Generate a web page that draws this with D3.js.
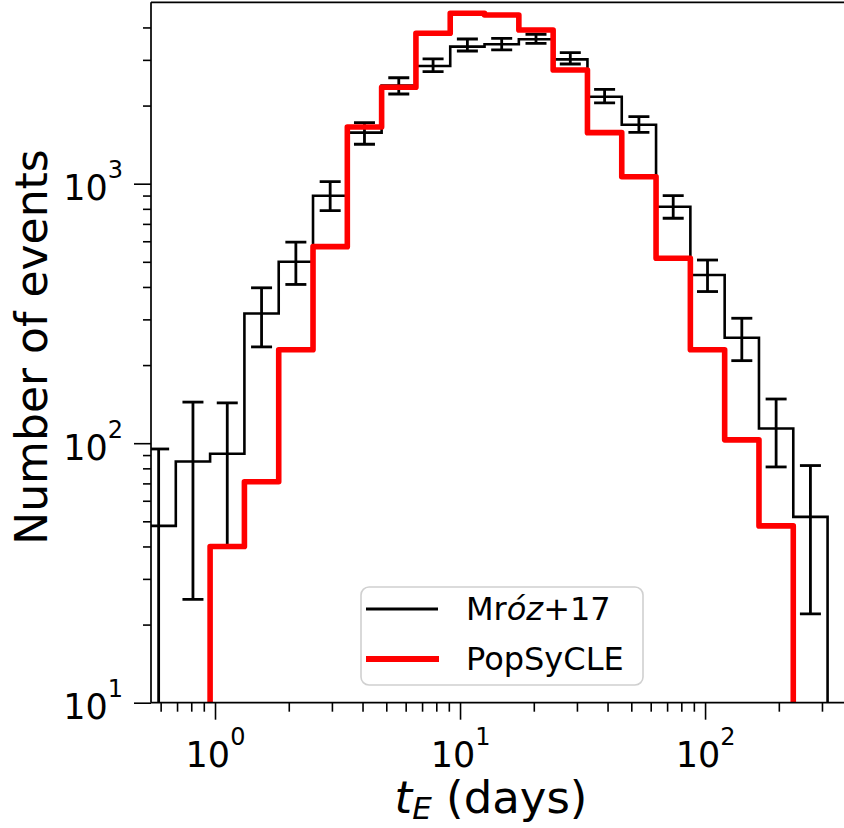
<!DOCTYPE html>
<meta charset="utf-8">
<script src="https://d3js.org/d3.v7.min.js"></script>
<style>
  body { margin: 0; background: #fff; }
  text { font-family: "DejaVu Sans", sans-serif; fill: #000; }
</style>
<div id="chart"></div>
<script>
// bin edges, log10(tE / days)
var logEdges = [-0.30, -0.16, -0.02, 0.12, 0.26, 0.40, 0.54, 0.68, 0.82, 0.96, 1.10,
                1.24, 1.38, 1.52, 1.66, 1.80, 1.94, 2.08, 2.22, 2.36, 2.50];
// Mroz+17 histogram and error bar ends
var mrozCounts = [48, 85, 91, 316, 500, 899, 1573, 2390, 2841, 3374, 3444,
                  3602, 3014, 2164, 1688, 815, 445, 255, 114, 52];
var mrozLow  = [1, 25, 40, 235, 409, 787, 1419, 2216, 2701, 3246, 3276,
                3475, 2892, 2050, 1578, 736, 384, 208, 81, 22];
var mrozHigh = [95, 144, 143, 397, 595, 1019, 1718, 2560, 3024, 3611, 3633,
                3765, 3199, 2311, 1813, 899, 508, 303, 148, 82];
// PopSyCLE histogram
var popCounts = [0, 0, 40, 71, 229, 572, 1654, 2353, 3798, 4536, 4467,
                 3909, 2742, 1573, 1064, 516, 229, 103, 48, 0];

var xTicks = [1, 10, 100];
var xMinor = [0.6, 0.7, 0.8, 0.9, 2, 3, 4, 5, 6, 7, 8, 9, 20, 30, 40, 50, 60, 70, 80, 90, 200, 300];
var yTicks = [10, 100, 1000];
var yMinor = [20, 30, 40, 50, 60, 70, 80, 90, 200, 300, 400, 500, 600, 700, 800, 900, 2000, 3000, 4000];

var W = 844, H = 828;
var pLeft = 151, pRight = 846, pTop = 2.3, pBottom = 702.7;

var svg = d3.select("#chart").append("svg")
    .attr("width", W).attr("height", H);

var x = d3.scaleLog().domain([0.548, 376]).range([pLeft, pRight]);
var y = d3.scaleLog().domain([10, 5000]).range([pBottom, pTop]);
var yc = y.copy().clamp(true);

svg.append("clipPath").attr("id", "clip")
  .append("rect").attr("x", pLeft).attr("y", pTop)
    .attr("width", pRight - pLeft).attr("height", pBottom - pTop);

var plot = svg.append("g").attr("clip-path", "url(#clip)");

// step outline over the non-empty bins, dropping to zero at both ends
function stepPoints(counts) {
  var first = counts.findIndex(function(c) { return c > 0; });
  var last = counts.length - 1;
  while (counts[last] <= 0) last--;
  var pts = [[logEdges[first], 0]];
  for (var i = first; i <= last; i++) {
    pts.push([logEdges[i], counts[i]]);
    pts.push([logEdges[i + 1], counts[i]]);
  }
  pts.push([logEdges[last + 1], 0]);
  return pts;
}
var line = d3.line()
  .x(function(d) { return x(Math.pow(10, d[0])); })
  .y(function(d) { return yc(d[1]); });

// Mroz+17 step
plot.append("path")
  .attr("d", line(stepPoints(mrozCounts)))
  .attr("fill", "none").attr("stroke", "#000").attr("stroke-width", 2.6)
  .attr("stroke-linejoin", "miter");

// error bars
var centers = mrozCounts.map(function(d, i) {
  return x(Math.pow(10, (logEdges[i] + logEdges[i + 1]) / 2));
});
var eb = plot.selectAll(".eb").data(mrozCounts).enter().append("g")
  .attr("stroke", "#000").attr("stroke-width", 2.8);
eb.append("line")
  .attr("x1", function(d, i) { return centers[i]; })
  .attr("x2", function(d, i) { return centers[i]; })
  .attr("y1", function(d, i) { return y(mrozLow[i]); })
  .attr("y2", function(d, i) { return y(mrozHigh[i]); });
[mrozLow, mrozHigh].forEach(function(arr) {
  eb.append("line")
    .attr("x1", function(d, i) { return centers[i] - 10.5; })
    .attr("x2", function(d, i) { return centers[i] + 10.5; })
    .attr("y1", function(d, i) { return y(arr[i]); })
    .attr("y2", function(d, i) { return y(arr[i]); });
});

// PopSyCLE step
plot.append("path")
  .attr("d", line(stepPoints(popCounts)))
  .attr("fill", "none").attr("stroke", "#ff0000").attr("stroke-width", 5.6)
  .attr("stroke-linejoin", "round");

// axes
function powLabel(sel, exp) {
  sel.append("tspan").text("10");
  sel.append("tspan").attr("font-size", 24).attr("dy", -22).text(exp);
}

var gx = svg.append("g").attr("transform", "translate(0," + pBottom + ")");
gx.call(d3.axisBottom(x).tickValues(xMinor).tickSize(9).tickFormat(""));
var gxMaj = svg.append("g").attr("transform", "translate(0," + pBottom + ")");
gxMaj.call(d3.axisBottom(x).tickValues(xTicks).tickSize(17).tickFormat(""));
gx.selectAll(".domain").remove();
gxMaj.selectAll(".domain").remove();
gxMaj.selectAll(".tick text")
  .attr("y", 64).attr("dy", 0).attr("font-size", 35)
  .attr("font-family", "DejaVu Sans").attr("text-anchor", "middle")
  .each(function(d) { powLabel(d3.select(this), Math.round(Math.log10(d))); });

var gy = svg.append("g").attr("transform", "translate(" + pLeft + ",0)");
gy.call(d3.axisLeft(y).tickValues(yMinor).tickSize(8).tickFormat(""));
var gyMaj = svg.append("g").attr("transform", "translate(" + pLeft + ",0)");
gyMaj.call(d3.axisLeft(y).tickValues(yTicks).tickSize(17).tickFormat(""));
gy.selectAll(".domain").remove();
gyMaj.selectAll(".domain").remove();
svg.selectAll(".tick line").attr("stroke-width", 1.6);
gyMaj.selectAll(".tick text")
  .attr("x", -28).attr("y", 16).attr("dy", 0).attr("font-size", 35)
  .attr("font-family", "DejaVu Sans").attr("text-anchor", "end")
  .each(function(d) { powLabel(d3.select(this), Math.round(Math.log10(d))); });

// spines
var spines = svg.append("g").attr("stroke", "#000").attr("stroke-width", 1.7);
spines.append("line").attr("x1", pLeft).attr("x2", pLeft).attr("y1", pTop).attr("y2", pBottom);
spines.append("line").attr("x1", pLeft).attr("x2", pRight).attr("y1", pBottom).attr("y2", pBottom);
spines.append("line").attr("x1", pLeft).attr("x2", pRight).attr("y1", pTop).attr("y2", pTop);

// axis labels
var xl = svg.append("text").attr("x", 491).attr("y", 813)
  .attr("text-anchor", "middle").attr("font-size", 45);
xl.append("tspan").attr("font-style", "italic").text("t");
xl.append("tspan").attr("font-style", "italic").attr("font-size", 31).attr("dy", 6).text("E");
xl.append("tspan").attr("dy", -6).text(" (days)");

svg.append("text")
  .attr("transform", "translate(47,347) rotate(-90)")
  .attr("text-anchor", "middle").attr("font-size", 44)
  .text("Number of events");

// legend
var lg = svg.append("g");
lg.append("rect").attr("x", 361).attr("y", 587).attr("width", 282).attr("height", 98)
  .attr("rx", 8).attr("fill", "#fff").attr("fill-opacity", 0.8)
  .attr("stroke", "#d0d0d0").attr("stroke-width", 1.6);
lg.append("line").attr("x1", 366).attr("x2", 438).attr("y1", 609).attr("y2", 609)
  .attr("stroke", "#000").attr("stroke-width", 3);
lg.append("line").attr("x1", 366).attr("x2", 439).attr("y1", 659).attr("y2", 659)
  .attr("stroke", "#ff0000").attr("stroke-width", 6);
var t1 = lg.append("text").attr("x", 466).attr("y", 620).attr("font-size", 32);
t1.append("tspan").text("Mr");
t1.append("tspan").attr("font-style", "italic").text("óz");
t1.append("tspan").text("+17");
lg.append("text").attr("x", 466).attr("y", 670).attr("font-size", 32).text("PopSyCLE");
</script>
